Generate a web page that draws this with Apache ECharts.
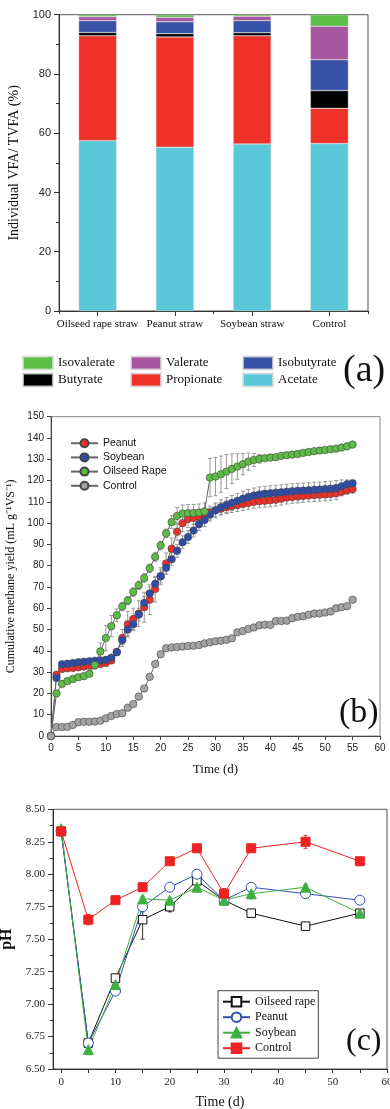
<!DOCTYPE html>
<html><head><meta charset="utf-8">
<script src="https://cdn.jsdelivr.net/npm/echarts@6/dist/echarts.min.js"></script>
<style>html,body{margin:0;padding:0;background:#fff}#c{width:390px;height:1109px}</style>
</head><body><div id="c"></div><script>
// ---------- Panel (a) data ----------
const categoriesA = ['Oilseed rape straw', 'Peanut straw', 'Soybean straw', 'Control'];
const acetate     = [57.5, 55.3, 56.4, 56.5];
const propionate  = [35.4, 37.2, 36.5, 11.9];
const butyrate    = [1.1, 1.1, 1.0, 6.0];
const isobutyrate = [4.0, 4.0, 4.1, 10.4];
const valerate    = [1.3, 1.5, 1.5, 11.3];
const isovalerate = [0.7, 0.9, 0.5, 3.9];

// ---------- Panel (b) data ----------
const daysB = [0,1,2,3,4,5,6,7,8,9,10,11,12,13,14,15,16,17,18,19,20,21,22,23,24,25,26,27,28,29,30,31,32,33,34,35,36,37,38,39,40,41,42,43,44,45,46,47,48,49,50,51,52,53,54,55];
const peanutB = [0,28.8,31.5,31.8,32.0,32.3,32.6,33.0,33.3,33.8,34.3,35.5,39.5,46.0,52.5,55.0,57.5,60.5,64.0,69.0,75.0,81.0,88.0,96.0,100.0,102.0,102.5,103.0,104.0,105.0,106.0,106.8,107.5,108.0,108.5,109.0,109.5,110.0,110.3,110.5,110.7,111.0,111.5,112.0,112.3,112.5,112.8,113.0,113.2,113.3,113.5,113.7,114.0,114.8,115.5,116.0];
const soybeanB = [0,27.3,33.7,34.0,34.3,34.6,34.9,35.1,35.3,35.5,35.8,36.8,39.3,45.0,50.0,52.5,57.0,62.5,67.0,71.5,75.0,79.0,83.0,87.0,91.0,93.5,96.5,99.5,101.5,104.0,106.0,107.5,108.5,109.5,110.5,111.5,112.3,113.0,113.5,113.8,114.0,114.3,114.5,114.8,115.0,115.2,115.3,115.5,115.7,115.8,116.0,116.2,116.5,117.3,118.3,118.7];
const oilseedB = [0,20.0,24.5,25.8,26.8,27.6,28.1,29.2,33.4,39.7,46.0,51.6,56.7,60.8,63.6,67.6,70.8,74.2,78.8,84.1,89.5,95.2,100.5,103.4,104.5,104.7,104.8,105.0,105.5,121.4,121.9,123.0,124.2,125.5,126.6,127.7,128.9,129.7,130.2,130.5,130.8,131.0,131.6,131.9,132.2,132.5,133.0,133.4,133.8,134.1,134.4,134.7,135.0,135.5,136.1,136.9];
const controlB = [0,4.2,4.2,4.3,5.2,6.5,6.7,6.7,6.8,7.2,8.3,9.4,10.3,10.7,13.3,15.0,18.5,22.3,27.8,33.8,38.4,41.2,41.6,41.8,42.0,42.3,42.4,42.7,43.5,44.0,44.5,44.8,45.2,45.9,48.7,49.3,50.3,51.0,52.0,52.3,52.2,54.0,54.0,54.2,55.3,56.0,56.2,57.0,57.5,57.6,58.0,58.5,60.0,60.5,61.0,64.0];
const errPeanutB = [0,0,0,0,0,0,0,0,0,0,0,0,1.5,4,6,5,6,7,7,6,4,5,5,4,4,4,3,3,3,3,3,3,3,3,3,3,3,3,3,3,3,3,3,3,3,3,3,3,3,3,3,3,3,2,2,2];
const errSoybeanB = [0,0.5,0.5,0.5,0.5,0.5,0.5,0.5,0.5,0.5,0.5,0.5,1,2,3,3,3,3,3,3,3,3,3,3,3,3,3,3,3,3,3.5,3.5,3.5,3.5,3.5,3.5,3.5,3.5,3.5,3.5,3.5,3.5,3.5,3.5,3.5,3.5,3.5,3.5,3.5,3.5,3.5,3.5,3.5,3,2,1.5];
const errOilseedB = [0,0,0,0,0,0,0,0,2,4,6,5,3,2,2,2,2,2,2,2,2,2,3,4,4,4,4,4,4,9,9,8.5,8,7,6,5,4,3,2,1,1,1,1,1,1,1,1,1,1,1,1,1,1,1,1,1];
const errControlB = [0,0.5,0.5,0.5,0.5,0.5,0.5,0.5,0.5,0.5,0.5,0.5,0.5,0.5,0.5,0.5,0.5,0.5,0.5,0.5,0.5,0.5,0.5,0.5,0.5,0.5,0.5,0.5,0.5,0.5,0.5,0.5,0.5,0.5,0.5,0.5,0.5,0.5,0.5,0.5,0.5,0.5,0.5,0.5,0.5,0.5,0.5,0.5,0.5,0.5,0.5,0.5,0.5,0.5,0.5,0.5];

// ---------- Panel (c) data ----------
const daysC = [0, 5, 10, 15, 20, 25, 30, 35, 45, 55];
const phOilseed = [8.33, 6.70, 7.20, 7.65, 7.75, 7.95, 7.80, 7.70, 7.60, 7.70];
const phPeanut  = [8.33, 6.70, 7.10, 7.75, 7.90, 8.00, 7.80, 7.90, 7.85, 7.80];
const phSoybean = [8.35, 6.65, 7.15, 7.81, 7.80, 7.90, 7.80, 7.85, 7.90, 7.70];
const phControl = [8.33, 7.65, 7.80, 7.90, 8.10, 8.20, 7.85, 8.20, 8.25, 8.10];
const errPhOilseed = [0.02, 0.02, 0.02, 0.15, 0.04, 0.02, 0.02, 0.02, 0.02, 0.02];
const errPhPeanut  = [0.02, 0.02, 0.02, 0.04, 0.02, 0.03, 0.02, 0.02, 0.03, 0.02];
const errPhSoybean = [0.02, 0.04, 0.02, 0.02, 0.02, 0.02, 0.02, 0.04, 0.02, 0.02];
const errPhControl = [0.02, 0.04, 0.02, 0.02, 0.02, 0.02, 0.04, 0.02, 0.05, 0.02];
const xLabelsC = [0, 10, 20, 30, 40, 50, 60];
const xTicksC = [0, 5, 10, 15, 20, 25, 30, 35, 40, 45, 50, 55, 60];

const SANS = '"Liberation Sans", Arial, sans-serif';
const SERIF = '"Liberation Serif", "Times New Roman", serif';
const AX = '#333';

function zip(xs, ys) { return xs.map((x, i) => [x, ys[i]]); }
function zip3(xs, ys, es) { return xs.map((x, i) => [x, ys[i], es[i]]); }

function errRender(capW, color) {
  return function (params, api) {
    const x = api.value(0), y = api.value(1), e = api.value(2);
    if (!e) return null;
    const t = api.coord([x, y + e]);
    const b = api.coord([x, y - e]);
    const h = capW / 2;
    const st = { stroke: color, lineWidth: 1 };
    return { type: 'group', children: [
      { type: 'line', shape: { x1: t[0], y1: t[1], x2: b[0], y2: b[1] }, style: st },
      { type: 'line', shape: { x1: t[0] - h, y1: t[1], x2: t[0] + h, y2: t[1] }, style: st },
      { type: 'line', shape: { x1: b[0] - h, y1: b[1], x2: b[0] + h, y2: b[1] }, style: st }
    ]};
  };
}

const chart = echarts.init(document.getElementById('c'), null, { renderer: 'canvas' });

const barColors = {
  Acetate: '#5BC8DA', Propionate: '#EE3129', Butyrate: '#000000',
  Isobutyrate: '#3651A6', Valerate: '#A756A0', Isovalerate: '#5CBF47'
};
const barData = { Acetate: acetate, Propionate: propionate, Butyrate: butyrate,
  Isobutyrate: isobutyrate, Valerate: valerate, Isovalerate: isovalerate };

const barSeries = Object.keys(barData).map(k => ({
  name: k, type: 'bar', stack: 'vfa', xAxisIndex: 0, yAxisIndex: 0,
  barWidth: 38, data: barData[k],
  itemStyle: { color: barColors[k], borderColor: 'rgba(220,220,220,0.8)', borderWidth: 0.5 }
}));

function lineB(name, data, fill) {
  return {
    name: name, type: 'line', xAxisIndex: 2, yAxisIndex: 1,
    data: zip(daysB, data), symbol: 'circle', symbolSize: 7.5, showAllSymbol: true, clip: false,
    lineStyle: { color: '#666', width: 1 },
    itemStyle: { color: fill, borderColor: '#444', borderWidth: 0.6 },
    z: 3
  };
}
function errB(data, errs) {
  return { type: 'custom', xAxisIndex: 2, yAxisIndex: 1, data: zip3(daysB, data, errs),
    renderItem: errRender(4, '#999'), z: 2, silent: true };
}
function lineC(name, data, symbol, size, fill, stroke) {
  return {
    name: name, type: 'line', xAxisIndex: 3, yAxisIndex: 2,
    data: zip(daysC, data), symbol: symbol, symbolSize: size, clip: false,
    lineStyle: { color: stroke, width: 1 },
    itemStyle: { color: fill, borderColor: stroke, borderWidth: 1 },
    z: 3
  };
}
function errC(data, errs, color) {
  return { type: 'custom', xAxisIndex: 3, yAxisIndex: 2, data: zip3(daysC, data, errs),
    renderItem: errRender(4, color), z: 2, silent: true };
}

const legendA = (left, names) => ({
  orient: 'vertical', left: left, top: 355.5, padding: 0, itemGap: 2,
  itemWidth: 30, itemHeight: 13, icon: 'rect', data: names, selectedMode: false,
  textStyle: { fontFamily: SERIF, fontSize: 13, color: '#111', lineHeight: 13 }
});

const option = {
  animation: false,
  textStyle: { fontFamily: SANS },
  grid: [
    { left: 59, top: 14.7, width: 309, height: 296.3, show: true, borderColor: '#555', borderWidth: 1, outerBoundsMode: 'none', containLabel: false },
    { left: 51, top: 416.7, width: 329, height: 319.3, show: true, borderColor: '#888', borderWidth: 1, outerBoundsMode: 'none', containLabel: false },
    { left: 53, top: 809.3, width: 334, height: 259.7, show: true, borderColor: '#555', borderWidth: 1, outerBoundsMode: 'none', containLabel: false }
  ],
  xAxis: [
    { type: 'category', gridIndex: 0, data: categoriesA,
      axisLine: { show: true, onZero: false, lineStyle: { color: AX } },
      axisTick: { show: true, alignWithLabel: true, length: 5, lineStyle: { color: AX } },
      axisLabel: { fontFamily: SERIF, fontSize: 11, color: '#111', margin: 8, interval: 0 } },
    { type: 'category', gridIndex: 0, data: categoriesA, position: 'bottom',
      axisLine: { show: false, onZero: false }, axisLabel: { show: false },
      axisTick: { show: true, length: 3, lineStyle: { color: AX } } },
    { type: 'value', gridIndex: 1, min: 0, max: 60, interval: 5,
      name: 'Time (d)', nameLocation: 'middle', nameGap: 27,
      nameTextStyle: { fontFamily: SERIF, fontSize: 13, color: '#111' },
      axisLine: { show: true, onZero: false, lineStyle: { color: '#444' } },
      axisTick: { show: true, length: 4, lineStyle: { color: '#444' } },
      splitLine: { show: false },
      axisLabel: { fontFamily: SANS, fontSize: 10, color: '#222', margin: 7 } },
    { type: 'value', gridIndex: 2, min: -1.5, max: 60,
      name: 'Time (d)', nameLocation: 'middle', nameGap: 26,
      nameTextStyle: { fontFamily: SERIF, fontSize: 14, color: '#111' },
      axisLine: { show: true, onZero: false, lineStyle: { color: AX } },
      axisTick: { show: true, length: 4, customValues: xTicksC, lineStyle: { color: AX } },
      splitLine: { show: false },
      axisLabel: { customValues: xLabelsC, fontFamily: SERIF, fontSize: 11, color: '#222', margin: 8 } }
  ],
  yAxis: [
    { type: 'value', gridIndex: 0, min: 0, max: 100, interval: 20,
      name: 'Individual VFA/ TVFA (%)', nameLocation: 'middle', nameGap: 30,
      nameTextStyle: { fontFamily: SERIF, fontSize: 14, color: '#111' },
      axisLine: { show: true, onZero: false, lineStyle: { color: AX } },
      axisTick: { show: true, length: 5, lineStyle: { color: AX } },
      minorTick: { show: true, splitNumber: 2, length: 3, lineStyle: { color: AX } },
      splitLine: { show: false },
      axisLabel: { fontFamily: SANS, fontSize: 11, color: '#222', margin: 8 } },
    { type: 'value', gridIndex: 1, min: 0, max: 150, interval: 10,
      name: 'Cumulative methane yield (mL g\u207B\u00B9VS\u207B\u00B9)', nameLocation: 'middle', nameGap: 32,
      nameTextStyle: { fontFamily: SERIF, fontSize: 12, color: '#111' },
      axisLine: { show: true, onZero: false, lineStyle: { color: '#444' } },
      axisTick: { show: true, length: 4, lineStyle: { color: '#444' } },
      splitLine: { show: false },
      axisLabel: { fontFamily: SANS, fontSize: 10, color: '#222', margin: 7 } },
    { type: 'value', gridIndex: 2, min: 6.5, max: 8.5, interval: 0.25,
      name: 'pH', nameLocation: 'middle', nameGap: 30,
      nameTextStyle: { fontFamily: SERIF, fontSize: 16, fontWeight: 'bold', color: '#111' },
      axisLine: { show: true, onZero: false, lineStyle: { color: AX } },
      axisTick: { show: true, length: 5, lineStyle: { color: AX } },
      minorTick: { show: true, splitNumber: 2, length: 3, lineStyle: { color: AX } },
      splitLine: { show: false },
      axisLabel: { fontFamily: SERIF, fontSize: 11, color: '#222', margin: 8,
        formatter: v => v.toFixed(2) } }
  ],
  legend: [
    legendA(22, ['Isovalerate', 'Butyrate']),
    legendA(130, ['Valerate', 'Propionate']),
    legendA(242, ['Isobutyrate', 'Acetate']),
    { orient: 'vertical', left: 70, top: 437.7, padding: 0, itemGap: 3.2,
      itemWidth: 27, itemHeight: 10, selectedMode: false,
      data: ['Peanut', 'Soybean', 'Oilseed Rape', 'Control'],
      textStyle: { fontFamily: SANS, fontSize: 10.5, color: '#111', lineHeight: 10 } },
    { orient: 'vertical', left: 218, top: 990.7, padding: [5, 3, 4, 4], itemGap: 3.5,
      itemWidth: 27, itemHeight: 12, selectedMode: false,
      borderColor: '#444', borderWidth: 1,
      data: ['c:Oilseed rape', 'c:Peanut', 'c:Soybean', 'c:Control'],
      formatter: n => n.replace('c:', ''),
      textStyle: { fontFamily: SERIF, fontSize: 12, color: '#111', lineHeight: 12 } }
  ],
  graphic: [
    { type: 'text', x: 343, y: 371, style: { text: '(a)', font: '38px "Liberation Serif"', fill: '#111', align: 'left', verticalAlign: 'middle' } },
    { type: 'text', x: 339, y: 713, style: { text: '(b)', font: '34px "Liberation Serif"', fill: '#111', align: 'left', verticalAlign: 'middle' } },
    { type: 'text', x: 346, y: 1042, style: { text: '(c)', font: '32px "Liberation Serif"', fill: '#111', align: 'left', verticalAlign: 'middle' } }
  ],
  series: [
    ...barSeries,
    errB(peanutB, errPeanutB), errB(soybeanB, errSoybeanB), errB(oilseedB, errOilseedB), errB(controlB, errControlB),
    lineB('Peanut', peanutB, '#EE3029'),
    lineB('Soybean', soybeanB, '#2F4DA6'),
    lineB('Oilseed Rape', oilseedB, '#5DBB46'),
    lineB('Control', controlB, '#A3A3A3'),
    errC(phOilseed, errPhOilseed, '#333'), errC(phPeanut, errPhPeanut, '#3050B0'),
    errC(phSoybean, errPhSoybean, '#2EA83A'), errC(phControl, errPhControl, '#E83030'),
    lineC('c:Oilseed rape', phOilseed, 'rect', 8.5, '#ffffff', '#111111'),
    lineC('c:Peanut', phPeanut, 'circle', 10, '#ffffff', '#3050B0'),
    lineC('c:Soybean', phSoybean, 'triangle', 10, '#3DB043', '#3DB043'),
    lineC('c:Control', phControl, 'rect', 9, '#EE2222', '#EE2222')
  ]
};
chart.setOption(option);
</script></body></html>
